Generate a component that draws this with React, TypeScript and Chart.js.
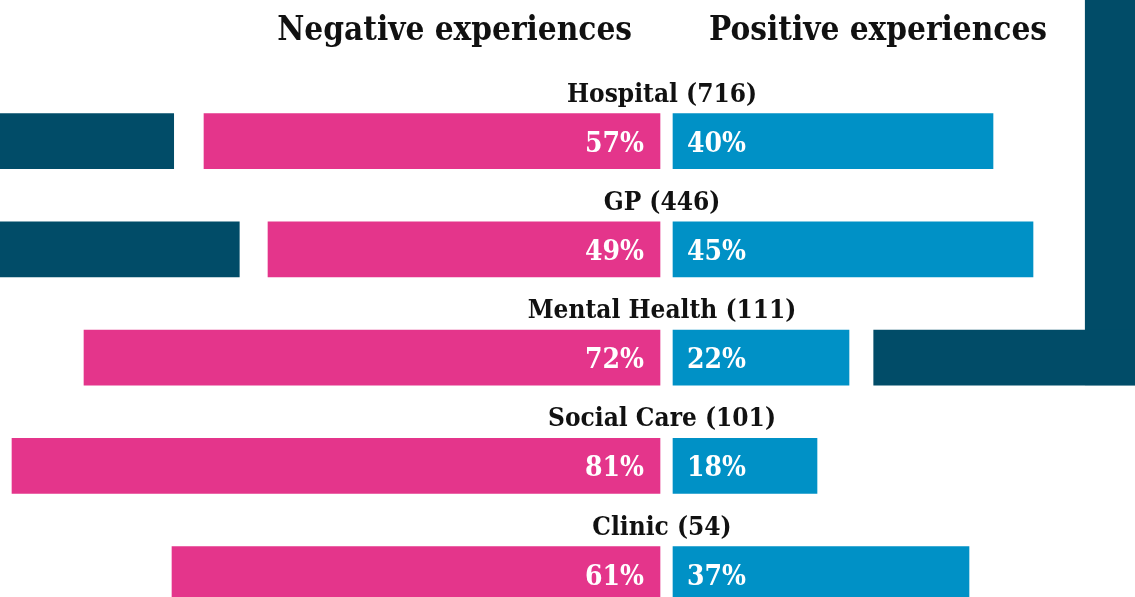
import React, { useEffect, useRef } from 'react';
import { Chart, registerables } from 'chart.js';

Chart.register(...registerables);

// ---- data ----
const categories = ['Hospital', 'GP', 'Mental Health', 'Social Care', 'Clinic'];
const respondents = [716, 446, 111, 101, 54];
const negativePct = [57, 49, 72, 81, 61];
const positivePct = [40, 45, 22, 18, 37];
const headerLabels = ['Negative experiences', 'Positive experiences'];

// decorative dark blocks (axis units, %)
const decorLeftEnds = [-61.6, -53.4, null, null, null];
const decorRightStarts = [null, null, 25.9, null, null];
const DECOR_STRIP_START = 52.3;

// ---- style ----
const PINK = '#e4358b';
const BLUE = '#0091c6';
const DARK = '#014c68';
const TEXT = '#111111';
const X_MIN = -83.3125;
const X_MAX = 58.5625;
const GAP = 0.8125;
const BAR = 55;
const FAMILY = '"DejaVu Serif Condensed", "DejaVu Serif", serif';
const HEADER_FONT = `bold 33px ${FAMILY}`;
const LABEL_FONT = `bold 26px ${FAMILY}`;
const PCT_FONT = `bold 28px ${FAMILY}`;

const textPlugin = {
  id: 'textPlugin',
  beforeDatasetsDraw(chart: any) {
    const { ctx } = chart;
    const xs = chart.scales.x;
    const decorMeta = chart.getDatasetMeta(0);
    const mhIdx = decorRightStarts.findIndex((v) => v != null);
    const el = decorMeta.data[mhIdx];
    const left = xs.getPixelForValue(DECOR_STRIP_START);
    const bottom = el.y + el.height / 2;
    ctx.save();
    ctx.fillStyle = DARK;
    ctx.fillRect(left, 0, chart.width - left, bottom);
    ctx.restore();
  },
  afterDatasetsDraw(chart: any) {
    const { ctx } = chart;
    const xs = chart.scales.x;
    const cx = (xs.getPixelForValue(-GAP) + xs.getPixelForValue(GAP)) / 2;
    ctx.save();
    // headers
    ctx.fillStyle = TEXT;
    ctx.font = HEADER_FONT;
    ctx.textBaseline = 'alphabetic';
    ctx.textAlign = 'right';
    ctx.fillText(headerLabels[0], cx - 34.5, 39.5);
    ctx.textAlign = 'left';
    ctx.fillText(headerLabels[1], cx + 42.5, 39.5);

    const negMeta = chart.getDatasetMeta(1);
    const posMeta = chart.getDatasetMeta(2);
    categories.forEach((cat, i) => {
      const n = negMeta.data[i];
      const p = posMeta.data[i];
      const top = n.y - n.height / 2;
      ctx.fillStyle = TEXT;
      ctx.font = LABEL_FONT;
      ctx.textAlign = 'center';
      ctx.fillText(`${cat} (${respondents[i]})`, cx - 4.5, top - 12);

      ctx.fillStyle = '#ffffff';
      ctx.font = PCT_FONT;
      const asc = ctx.measureText('0').actualBoundingBoxAscent;
      ctx.textAlign = 'right';
      ctx.fillText(`${negativePct[i]}%`, Math.max(n.x, n.base) - 16, n.y + asc / 2);
      ctx.textAlign = 'left';
      ctx.fillText(`${positivePct[i]}%`, Math.min(p.x, p.base) + 14, p.y + asc / 2);
    });
    ctx.restore();
  },
};

export default function App() {
  const ref = useRef<HTMLCanvasElement | null>(null);
  useEffect(() => {
    document.body.style.margin = '0';
    const canvas = ref.current;
    if (!canvas) return;
    const decorData = categories.map((_, i) =>
      decorLeftEnds[i] != null
        ? [X_MIN, decorLeftEnds[i] as number]
        : decorRightStarts[i] != null
        ? [decorRightStarts[i] as number, X_MAX]
        : null
    );
    const chart = new Chart(canvas, {
      type: 'bar',
      data: {
        labels: categories,
        datasets: [
          { label: 'decor', data: decorData as any, backgroundColor: DARK, grouped: false, barThickness: BAR, clip: false as any },
          { label: 'Negative', data: negativePct.map((v) => [-GAP - v, -GAP]) as any, backgroundColor: PINK, grouped: false, barThickness: BAR, clip: false as any },
          { label: 'Positive', data: positivePct.map((v) => [GAP, GAP + v]) as any, backgroundColor: BLUE, grouped: false, barThickness: BAR, clip: false as any },
        ],
      },
      options: {
        indexAxis: 'y',
        responsive: false,
        animation: false,
        events: [],
        layout: { padding: { top: 141.15, bottom: 22.85, left: 0, right: 0 } },
        plugins: { legend: { display: false }, tooltip: { enabled: false }, title: { display: false } },
        scales: {
          x: { type: 'linear', min: X_MIN, max: X_MAX, display: false },
          y: { type: 'category', offset: false, display: false },
        },
      },
      plugins: [textPlugin],
    });
    return () => chart.destroy();
  }, []);
  return (
    <div style={{ width: 1135, height: 597 }}>
      <canvas ref={ref} width={1135} height={597} />
    </div>
  );
}
